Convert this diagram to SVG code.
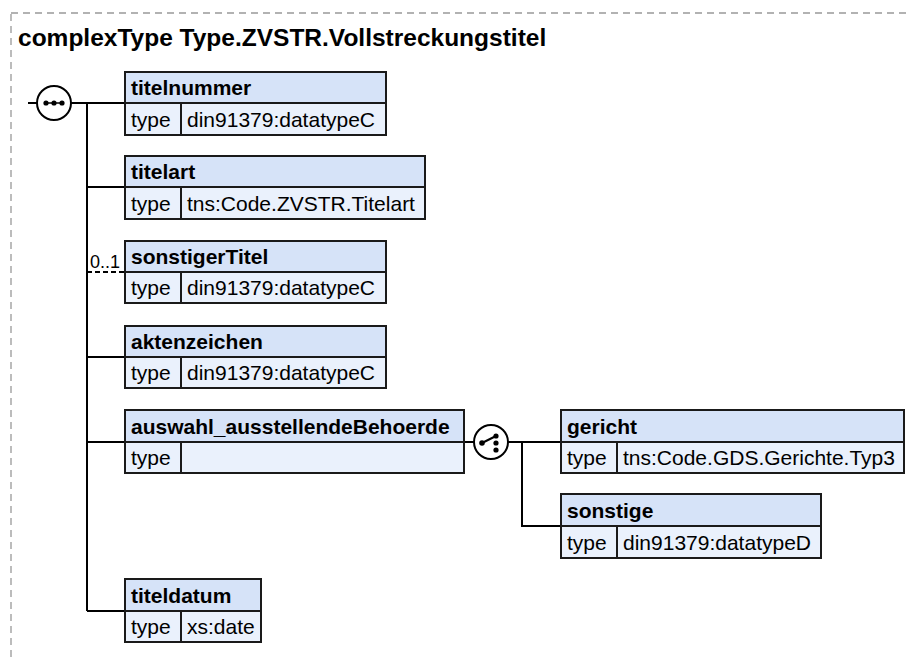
<svg xmlns="http://www.w3.org/2000/svg" width="911" height="660" viewBox="0 0 911 660">
<style>
text{font-family:"Liberation Sans",Arial,sans-serif;fill:#000}
.title{font-size:24.5px;font-weight:bold}
.hd{font-size:21px;font-weight:bold}
.tx{font-size:21px}
.occ{font-size:18px}
.hdr{fill:#d6e3f8;stroke:#1a1a1a;stroke-width:2}
.row{fill:#eaf1fc;stroke:#1a1a1a;stroke-width:2}
.div{stroke:#1a1a1a;stroke-width:2}
.ln{stroke:#000;stroke-width:2;fill:none}
.dash{stroke:#000;stroke-width:2;fill:none;stroke-dasharray:5,3}
.comp{fill:#fff;stroke:#000;stroke-width:2}
.dot{fill:#000}
</style>
<rect x="0" y="0" width="911" height="660" fill="#fff"/>
<rect x="11" y="13" width="920" height="680" fill="#fff" stroke="#999" stroke-width="1.3" stroke-dasharray="7,5"/>
<text class="title" x="18" y="46">complexType Type.ZVSTR.Vollstreckungstitel</text>

<g id="connectors">
<line class="ln" x1="28" y1="103" x2="37" y2="103"/>
<line class="ln" x1="71" y1="103" x2="125" y2="103"/>
<line class="ln" x1="87" y1="103" x2="87" y2="611"/>
<line class="ln" x1="87" y1="187" x2="125" y2="187"/>
<line class="dash" x1="87" y1="272" x2="125" y2="272"/>
<line class="ln" x1="87" y1="357" x2="125" y2="357"/>
<line class="ln" x1="87" y1="442" x2="125" y2="442"/>
<line class="ln" x1="87" y1="611" x2="125" y2="611"/>
<line class="ln" x1="464" y1="442" x2="474" y2="442"/>
<line class="ln" x1="508" y1="442" x2="561" y2="442"/>
<polyline class="ln" points="522,442 522,526 561,526"/>
<text class="occ" x="90" y="268">0..1</text>
</g>

<g id="sequence">
<circle class="comp" cx="54" cy="103" r="17"/>
<line x1="46" y1="103" x2="62" y2="103" stroke="#000" stroke-width="1.5"/>
<circle class="dot" cx="46" cy="103" r="2.6"/>
<circle class="dot" cx="54" cy="103" r="2.6"/>
<circle class="dot" cx="62" cy="103" r="2.6"/>
</g>

<g id="choice">
<circle class="comp" cx="491" cy="442" r="17"/>
<line x1="482" y1="443" x2="496" y2="436" stroke="#000" stroke-width="2"/>
<circle class="dot" cx="482" cy="443" r="2.8"/>
<circle class="dot" cx="496" cy="436" r="2.6"/>
<circle class="dot" cx="496" cy="443" r="2.6"/>
<circle class="dot" cx="496" cy="450" r="2.6"/>
</g>

<g id="titelnummer">
<rect class="hdr" x="125" y="72" width="261" height="31"/>
<rect class="row" x="125" y="103" width="261" height="32"/>
<line class="div" x1="181" y1="103" x2="181" y2="135"/>
<text class="hd" x="131" y="95">titelnummer</text>
<text class="tx" x="131" y="127">type</text>
<text class="tx" x="187" y="127">din91379:datatypeC</text>
</g>

<g id="titelart">
<rect class="hdr" x="125" y="156" width="300" height="31"/>
<rect class="row" x="125" y="187" width="300" height="32"/>
<line class="div" x1="181" y1="187" x2="181" y2="219"/>
<text class="hd" x="131" y="179">titelart</text>
<text class="tx" x="131" y="211">type</text>
<text class="tx" x="187" y="211">tns:Code.ZVSTR.Titelart</text>
</g>

<g id="sonstigerTitel">
<rect class="hdr" x="125" y="241" width="261" height="31"/>
<rect class="row" x="125" y="272" width="261" height="31"/>
<line class="div" x1="181" y1="272" x2="181" y2="303"/>
<text class="hd" x="131" y="264">sonstigerTitel</text>
<text class="tx" x="131" y="295">type</text>
<text class="tx" x="187" y="295">din91379:datatypeC</text>
</g>

<g id="aktenzeichen">
<rect class="hdr" x="125" y="326" width="261" height="31"/>
<rect class="row" x="125" y="357" width="261" height="31"/>
<line class="div" x1="181" y1="357" x2="181" y2="388"/>
<text class="hd" x="131" y="349">aktenzeichen</text>
<text class="tx" x="131" y="380">type</text>
<text class="tx" x="187" y="380">din91379:datatypeC</text>
</g>

<g id="auswahl_ausstellendeBehoerde">
<rect class="hdr" x="125" y="410" width="339" height="32"/>
<rect class="row" x="125" y="442" width="339" height="31"/>
<line class="div" x1="181" y1="442" x2="181" y2="473"/>
<text class="hd" x="131" y="434">auswahl_ausstellendeBehoerde</text>
<text class="tx" x="131" y="465">type</text>
</g>

<g id="gericht">
<rect class="hdr" x="561" y="410" width="343" height="32"/>
<rect class="row" x="561" y="442" width="343" height="31"/>
<line class="div" x1="617" y1="442" x2="617" y2="473"/>
<text class="hd" x="567" y="434">gericht</text>
<text class="tx" x="567" y="465">type</text>
<text class="tx" x="623" y="465">tns:Code.GDS.Gerichte.Typ3</text>
</g>

<g id="sonstige">
<rect class="hdr" x="561" y="494" width="260" height="32"/>
<rect class="row" x="561" y="526" width="260" height="32"/>
<line class="div" x1="617" y1="526" x2="617" y2="558"/>
<text class="hd" x="567" y="518">sonstige</text>
<text class="tx" x="567" y="550">type</text>
<text class="tx" x="623" y="550">din91379:datatypeD</text>
</g>

<g id="titeldatum">
<rect class="hdr" x="125" y="579" width="136" height="32"/>
<rect class="row" x="125" y="611" width="136" height="31"/>
<line class="div" x1="181" y1="611" x2="181" y2="642"/>
<text class="hd" x="131" y="603">titeldatum</text>
<text class="tx" x="131" y="634">type</text>
<text class="tx" x="187" y="634">xs:date</text>
</g>
</svg>
